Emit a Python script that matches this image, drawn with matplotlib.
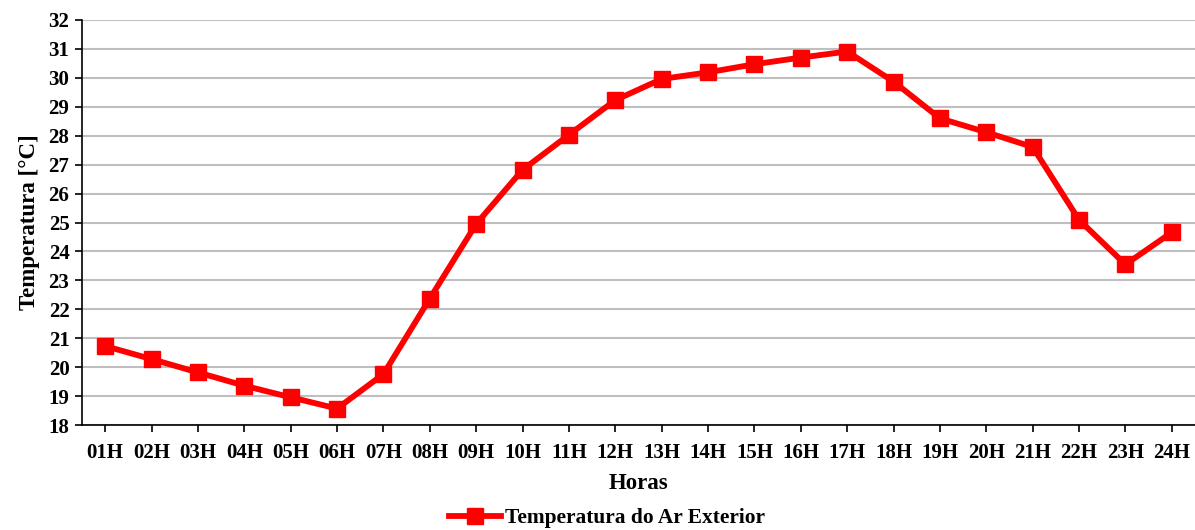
import matplotlib
matplotlib.use('Agg')
import matplotlib.pyplot as plt

horas = ['01H', '02H', '03H', '04H', '05H', '06H', '07H', '08H', '09H', '10H', '11H', '12H',
         '13H', '14H', '15H', '16H', '17H', '18H', '19H', '20H', '21H', '22H', '23H', '24H']
temperatura = [20.73, 20.28, 19.82, 19.36, 18.96, 18.57, 19.76, 22.37, 24.95, 26.82, 28.03, 29.23,
               29.96, 30.19, 30.47, 30.70, 30.91, 29.87, 28.60, 28.12, 27.61, 25.09, 23.55, 24.66]

plt.rcParams['font.family'] = ['Liberation Serif', 'DejaVu Serif']
plt.rcParams['font.weight'] = 'bold'

fig = plt.figure(figsize=(11.95, 5.30), dpi=100)
ax = fig.add_axes([0.0686, 0.198, 0.9314, 0.7643])

x = list(range(len(horas)))
ax.plot(x, temperatura, color='#FF0000', lw=4.2, marker='s', markersize=11,
        label='Temperatura do Ar Exterior', zorder=3)

ax.set_xlim(-0.5, len(horas) - 0.5)
ax.set_ylim(18, 32)
ax.set_yticks(range(18, 33))
ax.set_xticks(x)
ax.set_xticklabels(horas)
ax.tick_params(axis='both', labelsize=15, direction='out', length=5, width=1.2, colors='black')
ax.tick_params(axis='x', pad=8)
ax.tick_params(axis='y', pad=4)
for lbl in ax.get_xticklabels() + ax.get_yticklabels():
    lbl.set_fontweight('bold')

ax.grid(axis='y', color='#BFBFBF', lw=1.5)
ax.set_axisbelow(True)
for s in ['top', 'right']:
    ax.spines[s].set_visible(False)
for s in ['left', 'bottom']:
    ax.spines[s].set_linewidth(1.2)

ax.set_xlabel('Horas', fontsize=16.5, fontweight='bold', labelpad=7)
ax.set_ylabel('Temperatura [°C]', fontsize=16.5, fontweight='bold', labelpad=6)

fig.legend(loc='center', bbox_to_anchor=(0.508, 0.022), frameon=False,
           handlelength=2.4, handletextpad=0.2, prop={'weight': 'bold', 'size': 15.4})

fig.savefig('out.png', dpi=100)
